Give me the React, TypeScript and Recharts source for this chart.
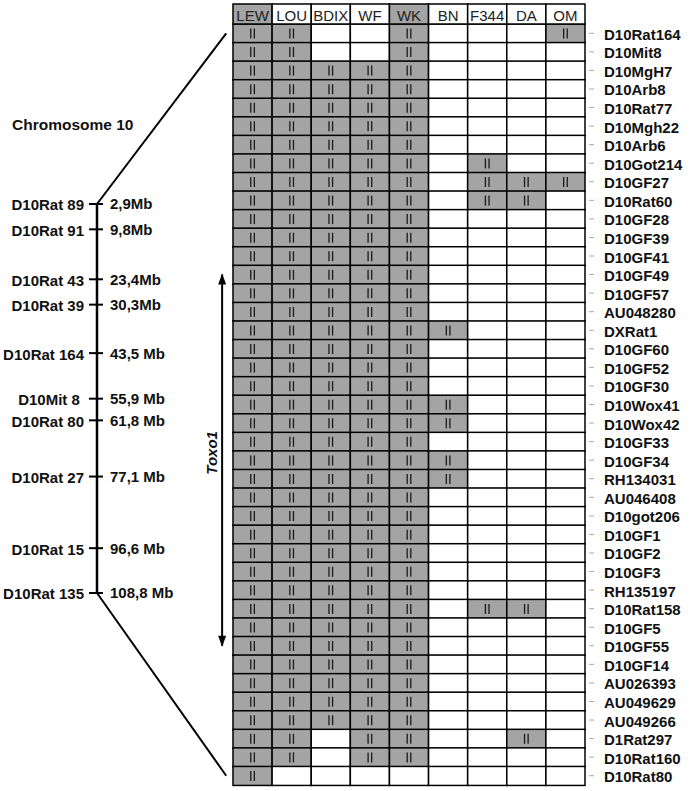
import { BarChart, Bar, XAxis, YAxis, ComposedChart, Line, Scatter } from 'recharts';

// table rows (markers, top to bottom)
const MARKERS = [
  'D10Rat164', 'D10Mit8', 'D10MgH7', 'D10Arb8', 'D10Rat77', 'D10Mgh22', 'D10Arb6', 'D10Got214', 'D10GF27', 'D10Rat60',
  'D10GF28', 'D10GF39', 'D10GF41', 'D10GF49', 'D10GF57', 'AU048280', 'DXRat1', 'D10GF60', 'D10GF52', 'D10GF30',
  'D10Wox41', 'D10Wox42', 'D10GF33', 'D10GF34', 'RH134031', 'AU046408', 'D10got206', 'D10GF1', 'D10GF2', 'D10GF3',
  'RH135197', 'D10Rat158', 'D10GF5', 'D10GF55', 'D10GF14', 'AU026393', 'AU049629', 'AU049266', 'D1Rat297', 'D10Rat160',
  'D10Rat80',
];

const STRAINS = ['LEW', 'LOU', 'BDIX', 'WF', 'WK', 'BN', 'F344', 'DA', 'OM'];
const SHADED_HEADERS = ['LEW', 'WK'];

// 1 = "II" allele shared with LEW, one value per marker
const LEW = [
  1, 1, 1, 1, 1, 1, 1, 1, 1, 1,
  1, 1, 1, 1, 1, 1, 1, 1, 1, 1,
  1, 1, 1, 1, 1, 1, 1, 1, 1, 1,
  1, 1, 1, 1, 1, 1, 1, 1, 1, 1,
  1,
];
const LOU = [
  1, 1, 1, 1, 1, 1, 1, 1, 1, 1,
  1, 1, 1, 1, 1, 1, 1, 1, 1, 1,
  1, 1, 1, 1, 1, 1, 1, 1, 1, 1,
  1, 1, 1, 1, 1, 1, 1, 1, 1, 1,
  0,
];
const BDIX = [
  0, 0, 1, 1, 1, 1, 1, 1, 1, 1,
  1, 1, 1, 1, 1, 1, 1, 1, 1, 1,
  1, 1, 1, 1, 1, 1, 1, 1, 1, 1,
  1, 1, 1, 1, 1, 1, 1, 1, 0, 0,
  0,
];
const WF = [
  0, 0, 1, 1, 1, 1, 1, 1, 1, 1,
  1, 1, 1, 1, 1, 1, 1, 1, 1, 1,
  1, 1, 1, 1, 1, 1, 1, 1, 1, 1,
  1, 1, 1, 1, 1, 1, 1, 1, 1, 1,
  0,
];
const WK = [
  1, 1, 1, 1, 1, 1, 1, 1, 1, 1,
  1, 1, 1, 1, 1, 1, 1, 1, 1, 1,
  1, 1, 1, 1, 1, 1, 1, 1, 1, 1,
  1, 1, 1, 1, 1, 1, 1, 1, 1, 1,
  0,
];
const BN = [
  0, 0, 0, 0, 0, 0, 0, 0, 0, 0,
  0, 0, 0, 0, 0, 0, 1, 0, 0, 0,
  1, 1, 0, 1, 1, 0, 0, 0, 0, 0,
  0, 0, 0, 0, 0, 0, 0, 0, 0, 0,
  0,
];
const F344 = [
  0, 0, 0, 0, 0, 0, 0, 1, 1, 1,
  0, 0, 0, 0, 0, 0, 0, 0, 0, 0,
  0, 0, 0, 0, 0, 0, 0, 0, 0, 0,
  0, 1, 0, 0, 0, 0, 0, 0, 0, 0,
  0,
];
const DA = [
  0, 0, 0, 0, 0, 0, 0, 0, 1, 1,
  0, 0, 0, 0, 0, 0, 0, 0, 0, 0,
  0, 0, 0, 0, 0, 0, 0, 0, 0, 0,
  0, 1, 0, 0, 0, 0, 0, 0, 1, 0,
  0,
];
const OM = [
  1, 0, 0, 0, 0, 0, 0, 0, 1, 0,
  0, 0, 0, 0, 0, 0, 0, 0, 0, 0,
  0, 0, 0, 0, 0, 0, 0, 0, 0, 0,
  0, 0, 0, 0, 0, 0, 0, 0, 0, 0,
  0,
];
const GENOTYPES = [LEW, LOU, BDIX, WF, WK, BN, F344, DA, OM];

// chromosome 10 map
const CHR_MARKERS = ['D10Rat 89', 'D10Rat 91', 'D10Rat 43', 'D10Rat 39', 'D10Rat 164', 'D10Mit 8\u00a0', 'D10Rat 80', 'D10Rat 27', 'D10Rat 15', 'D10Rat 135'];
const CHR_MB = [2.9, 9.8, 23.4, 30.3, 43.5, 55.9, 61.8, 77.1, 96.6, 108.8];
const CHR_MB_LABELS = ['2,9Mb', '9,8Mb', '23,4Mb', '30,3Mb', '43,5 Mb', '55,9 Mb', '61,8 Mb', '77,1 Mb', '96,6 Mb', '108,8 Mb'];

const TOXO1_FROM = 'D10GF49';
const TOXO1_TO = 'D10GF55';

// layout
const W = 690;
const H = 791;
const TABLE_LEFT = 233;
const TABLE_RIGHT = 585;
const HEADER_TOP = 4;
const HEADER_H = 20;
const TABLE_BOTTOM = 785;
const COL_W = (TABLE_RIGHT - TABLE_LEFT) / STRAINS.length;
const CHR_LINE_X = 97;
const MB_DOMAIN: [number, number] = [-46.1, 161.07];
const LINK_X = 0.95;
const ARROW_X = 0.92;
const TOXO_LABEL_X = 0.84;
const GRAY = '#a4a4a4';
const FONT = '"Liberation Sans", Arial, Helvetica, sans-serif';

const rows = MARKERS.map((m, i) => {
  const r: any = { marker: m };
  STRAINS.forEach((s, j) => {
    r[s] = 1;
    r[s + '_on'] = GENOTYPES[j][i];
  });
  return r;
});

const rowToMb = (name: string) => {
  const i = MARKERS.indexOf(name);
  return MB_DOMAIN[0] + ((i + 0.5) / MARKERS.length) * (MB_DOMAIN[1] - MB_DOMAIN[0]);
};

const chrPoints = CHR_MARKERS.map((name, i) => ({ x: 0, mb: CHR_MB[i], name, label: CHR_MB_LABELS[i] }));
const chrLine = [{ x: 0, mb: CHR_MB[0] }, { x: 0, mb: CHR_MB[CHR_MB.length - 1] }];
const topLink = [{ x: 0, mb: CHR_MB[0] }, { x: LINK_X, mb: rowToMb(MARKERS[0]) }];
const bottomLink = [{ x: 0, mb: CHR_MB[CHR_MB.length - 1] }, { x: LINK_X, mb: rowToMb(MARKERS[MARKERS.length - 1]) }];
const arrowShaft = [{ x: ARROW_X, mb: rowToMb(TOXO1_FROM) }, { x: ARROW_X, mb: rowToMb(TOXO1_TO) }];
const arrowHeads = [
  { x: ARROW_X, mb: rowToMb(TOXO1_FROM), dir: -1 },
  { x: ARROW_X, mb: rowToMb(TOXO1_TO), dir: 1 },
];
const toxoLabel = [{ x: TOXO_LABEL_X, mb: (rowToMb(TOXO1_FROM) + rowToMb(TOXO1_TO)) / 2 - 2 }];

const HeaderTick = (p: any) => {
  const s = STRAINS[Math.floor(p.payload.value)];
  return (
    <g>
      <rect x={p.x - COL_W / 2} y={HEADER_TOP} width={COL_W} height={HEADER_H}
        fill={SHADED_HEADERS.includes(s) ? GRAY : '#fff'} stroke="#000" strokeWidth={1.5} />
      <text x={p.x} y={HEADER_TOP + HEADER_H / 2 + 1} textAnchor="middle" dominantBaseline="central"
        fontSize={15} fontFamily={FONT} fill="#222">{s}</text>
    </g>
  );
};

const MarkerTick = (p: any) => (
  <g>
    <line x1={p.x + 4} x2={p.x + 9} y1={p.y} y2={p.y} stroke="#aaa" strokeWidth={1} />
    <text x={p.x + 19} y={p.y + 1} dominantBaseline="central" fontSize={15} fontWeight="bold"
      fontFamily={FONT} fill="#111">{p.payload.value}</text>
  </g>
);

// two short vertical strokes, the "II" mark
const GenoCell = (p: any) => {
  const cx = p.x + p.width / 2;
  const cy = p.y + p.height / 2;
  return (
    <g>
      <rect x={p.x} y={p.y} width={p.width} height={p.height} fill={p.on ? GRAY : '#fff'} stroke="#000" strokeWidth={1.5} />
      {p.on ? (
        <g stroke="#1a1a1a" strokeWidth={1.3}>
          <line x1={cx - 1.8} x2={cx - 1.8} y1={cy - 5} y2={cy + 5} />
          <line x1={cx + 1.8} x2={cx + 1.8} y1={cy - 5} y2={cy + 5} />
        </g>
      ) : null}
    </g>
  );
};

const ChrTick = (p: any) => (
  <g>
    <line x1={p.cx - 8} x2={p.cx + 6} y1={p.cy} y2={p.cy} stroke="#000" strokeWidth={2} />
    <text x={p.cx - 13} y={p.cy + 1} textAnchor="end" dominantBaseline="central" fontSize={15}
      fontWeight="bold" fontFamily={FONT} fill="#111">{p.payload.name}</text>
    <text x={p.cx + 13} y={p.cy} dominantBaseline="central" fontSize={15}
      fontWeight="bold" fontFamily={FONT} fill="#111">{p.payload.label}</text>
  </g>
);

const ArrowHead = (p: any) => {
  const d = p.payload.dir;
  return <polygon points={`${p.cx},${p.cy + d} ${p.cx - 4},${p.cy - d * 10} ${p.cx + 4},${p.cy - d * 10}`} fill="#000" />;
};

const ToxoText = (p: any) => (
  <text x={p.cx} y={p.cy} textAnchor="middle" dominantBaseline="central" transform={`rotate(-90 ${p.cx} ${p.cy})`}
    fontSize={15} fontWeight="bold" fontStyle="italic" fontFamily={FONT} fill="#111">Toxo1</text>
);

export default function App() {
  return (
    <div style={{ position: 'absolute', left: 0, top: 0, width: W, height: H, background: '#fff', fontFamily: FONT }}>
      <BarChart width={W} height={H} data={rows} layout="vertical" barCategoryGap={0} barGap={0}
        margin={{ top: HEADER_TOP, right: 0, bottom: H - TABLE_BOTTOM, left: TABLE_LEFT }}>
        <XAxis type="number" orientation="top" domain={[0, STRAINS.length]} ticks={STRAINS.map((_, i) => i + 0.5)}
          height={HEADER_H} axisLine={false} tickLine={false} tickSize={0} tickMargin={0} interval={0}
          tick={(p: any) => <HeaderTick {...p} />} />
        <YAxis type="category" dataKey="marker" orientation="right" width={W - TABLE_RIGHT} axisLine={false}
          tickLine={false} tickSize={0} tickMargin={0} interval={0} tick={(p: any) => <MarkerTick {...p} />} />
        {STRAINS.map((s) => (
          <Bar key={s} dataKey={s} stackId="g" isAnimationActive={false}
            shape={(p: any) => <GenoCell {...p} on={p.payload[s + '_on']} />} />
        ))}
      </BarChart>

      <div style={{ position: 'absolute', left: 0, top: 0, pointerEvents: 'none' }}>
        <ComposedChart width={TABLE_LEFT} height={H}
          margin={{ top: HEADER_TOP + HEADER_H, right: 0, bottom: H - TABLE_BOTTOM, left: CHR_LINE_X }}>
          <XAxis type="number" dataKey="x" domain={[0, 1]} hide />
          <YAxis type="number" dataKey="mb" domain={MB_DOMAIN} reversed hide />
          <Line data={chrLine} dataKey="mb" stroke="#000" strokeWidth={2.5} dot={false} activeDot={false} isAnimationActive={false} />
          <Line data={topLink} dataKey="mb" stroke="#000" strokeWidth={2} dot={false} activeDot={false} isAnimationActive={false} />
          <Line data={bottomLink} dataKey="mb" stroke="#000" strokeWidth={2} dot={false} activeDot={false} isAnimationActive={false} />
          <Line data={arrowShaft} dataKey="mb" stroke="#000" strokeWidth={2} dot={false} activeDot={false} isAnimationActive={false} />
          <Scatter data={arrowHeads} shape={(p: any) => <ArrowHead {...p} />} isAnimationActive={false} />
          <Scatter data={toxoLabel} shape={(p: any) => <ToxoText {...p} />} isAnimationActive={false} />
          <Scatter data={chrPoints} shape={(p: any) => <ChrTick {...p} />} isAnimationActive={false} />
        </ComposedChart>
      </div>

      <div style={{ position: 'absolute', left: 12, top: 116, fontSize: 15.5, fontWeight: 'bold', color: '#111', whiteSpace: 'nowrap' }}>
        Chromosome 10
      </div>
    </div>
  );
}
